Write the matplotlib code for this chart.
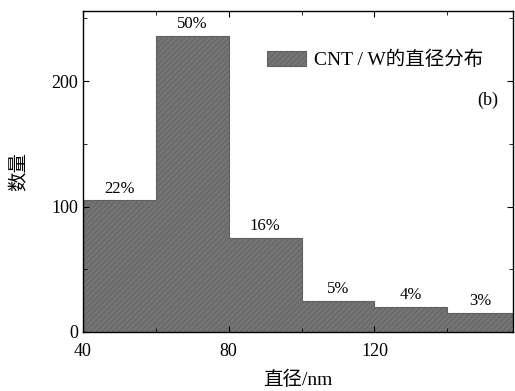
import numpy as np
import matplotlib
matplotlib.use("Agg")
import matplotlib.pyplot as plt
from matplotlib.ticker import MultipleLocator

plt.rcParams['font.family'] = ['Liberation Serif', 'Noto Sans CJK SC']
plt.rcParams['hatch.color'] = '#505050'
plt.rcParams['hatch.linewidth'] = 0.5

# bin edges (nm) and counts
bin_edges = [40, 60, 80, 100, 120, 140, 160]
counts = [105, 236, 75, 25, 20, 15]
pct_labels = ['22%', '50%', '16%', '5%', '4%', '3%']
legend_label = 'CNT / W的直径分布'

fig = plt.figure(figsize=(5.15, 3.91), dpi=100)
ax = fig.add_axes([0.161, 0.151, 0.835, 0.821])

ax.stairs(counts, bin_edges, fill=True, facecolor='#737373',
          edgecolor='#606060', linewidth=0.8, hatch='//////',
          label=legend_label)

for i, t in enumerate(pct_labels):
    xc = (bin_edges[i] + bin_edges[i + 1]) / 2
    if i == len(pct_labels) - 1:
        xc = (bin_edges[i] + 158) / 2
    ax.text(xc, counts[i] + 3, t, ha='center', va='bottom', fontsize=12)

ax.set_xlim(40, 158)
ax.set_ylim(0, 256)
ax.xaxis.set_major_locator(MultipleLocator(40))
ax.xaxis.set_minor_locator(MultipleLocator(20))
ax.yaxis.set_major_locator(MultipleLocator(100))
ax.yaxis.set_minor_locator(MultipleLocator(50))
ax.tick_params(which='both', direction='in', top=True, right=True, labelsize=13)
ax.tick_params(which='major', length=4)
ax.tick_params(which='minor', length=3)
ax.tick_params(axis='x', which='major', pad=8)
for s in ax.spines.values():
    s.set_linewidth(1.0)

ax.set_xlabel('直径/nm', fontsize=14, labelpad=8)
ax.set_ylabel('数量', fontsize=14, labelpad=16)

ax.legend(loc='upper left', bbox_to_anchor=(0.41, 0.90), frameon=False,
          fontsize=14, handlelength=2.0, handleheight=0.8, handletextpad=0.4,
          borderaxespad=0)
ax.text(0.965, 0.72, '(b)', transform=ax.transAxes, ha='right', va='center',
        fontsize=13)

fig.savefig('out.png', dpi=100)
